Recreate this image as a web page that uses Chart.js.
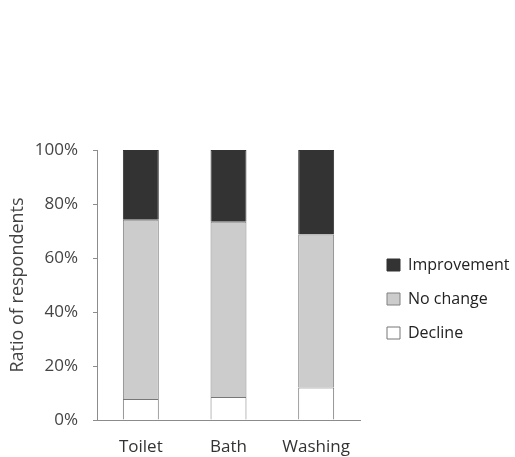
<!DOCTYPE html>
<html>
<head>
<meta charset="utf-8">
<script src="https://cdn.jsdelivr.net/npm/chart.js@4"></script>
<style>
  html, body { margin: 0; padding: 0; background: #fff; }
  #wrap { width: 515px; height: 457px; position: relative; }
</style>
</head>
<body>
<div id="wrap"><canvas id="chart"></canvas></div>
<script>
// Data (percent of respondents)
const categories = ['Toilet', 'Bath', 'Washing'];
const declineValues = [7.8, 8.5, 12.0];
const noChangeValues = [66.4, 64.9, 56.7];
const improvementValues = [25.8, 26.6, 31.3];
const yTicks = [0, 20, 40, 60, 80, 100];

const fontFamily = '"Open Sans", "Noto Sans", sans-serif';

// The right-hand legend is capped narrow by the layout, so after layout
// give it the whole strip to the right of the plot and move it down a bit.
const legendBoxPlugin = {
    id: 'legendBox',
    afterLayout(chart) {
        const lg = chart.legend;
        if (!lg) return;
        lg.left = chart.chartArea.right + 9;
        lg.right = chart.width;
        lg.width = lg.right - lg.left;
        lg.top = 150;
        lg.bottom = 448;
        lg.height = lg.bottom - lg.top;
    }
};

const ctx = document.getElementById('chart').getContext('2d');
new Chart(ctx, {
    type: 'bar',
    data: {
        labels: categories,
        datasets: [
            {
                label: 'Decline',
                data: declineValues,
                backgroundColor: '#ffffff',
                borderColor: '#777777',
                borderWidth: 1
            },
            {
                label: 'No change',
                data: noChangeValues,
                backgroundColor: '#cccccc',
                borderColor: '#808080',
                borderWidth: 1
            },
            {
                label: 'Improvement',
                data: improvementValues,
                backgroundColor: '#333333',
                borderColor: '#333333',
                borderWidth: 1
            }
        ]
    },
    plugins: [legendBoxPlugin],
    options: {
        responsive: true,
        maintainAspectRatio: false,
        animation: false,
        layout: {
            padding: { top: 150, right: 45, bottom: 0, left: 4 }
        },
        datasets: {
            bar: { barPercentage: 0.41, categoryPercentage: 1.0 }
        },
        scales: {
            x: {
                stacked: true,
                grid: { display: false, drawTicks: false },
                border: { display: true, color: '#8c8c8c', width: 1 },
                ticks: {
                    color: '#333333',
                    padding: 17,
                    font: { family: fontFamily, size: 17 }
                },
                afterFit: axis => { axis.height = 37; }
            },
            y: {
                stacked: true,
                min: 0,
                max: 100,
                afterBuildTicks: axis => {
                    axis.ticks = yTicks.map(v => ({ value: v }));
                },
                grid: {
                    drawOnChartArea: false,
                    drawTicks: true,
                    tickLength: 4,
                    color: '#8c8c8c'
                },
                border: { display: true, color: '#8c8c8c', width: 1 },
                ticks: {
                    color: '#444444',
                    padding: 15,
                    font: { family: fontFamily, size: 17 },
                    callback: v => v + '%'
                },
                title: {
                    display: true,
                    text: 'Ratio of respondents',
                    color: '#444444',
                    padding: { top: 3, bottom: 0 },
                    font: { family: fontFamily, size: 18 }
                },
                afterFit: axis => { axis.width = 93; }
            }
        },
        plugins: {
            legend: {
                position: 'right',
                reverse: true,
                maxWidth: 110,
                labels: {
                    boxWidth: 13,
                    boxHeight: 12,
                    padding: 18,
                    color: '#222222',
                    font: { family: fontFamily, size: 16 }
                }
            },
            tooltip: { enabled: false }
        }
    }
});
</script>
</body>
</html>
